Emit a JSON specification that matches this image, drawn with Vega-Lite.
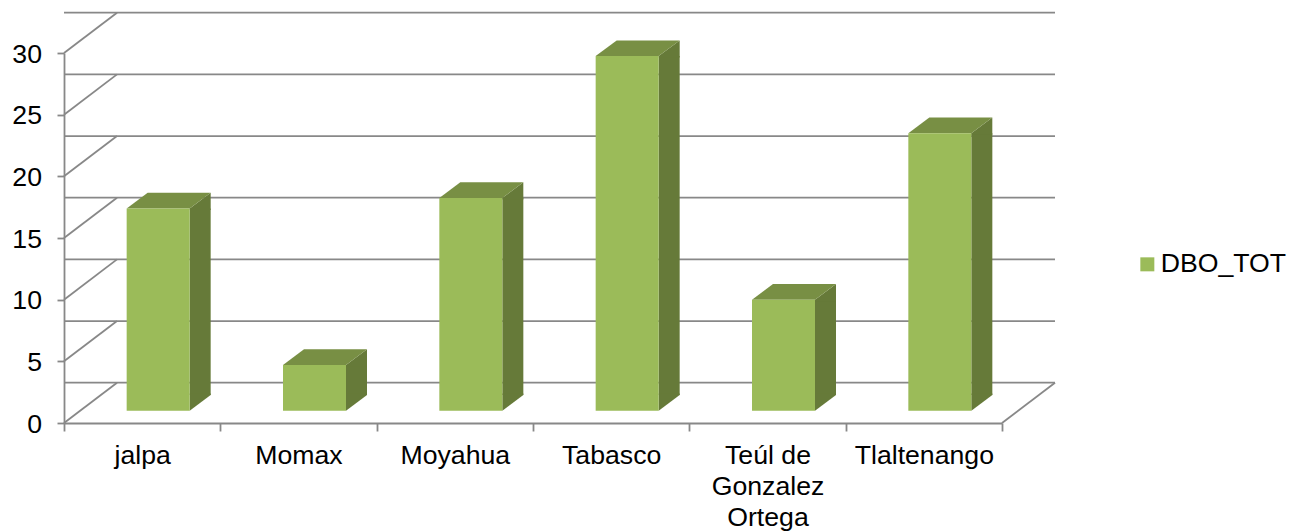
{
"$schema":"https://vega.github.io/schema/vega-lite/v6.json",
"width":938,"height":370,
"autosize":{"type":"none"},
"padding":{"left":64,"top":53,"right":297,"bottom":108},
"background":"white",
"config":{"view":{"stroke":null},"font":"Liberation Sans"},
"datasets":{
"bars":[
{"municipio":"jalpa","serie":"DBO_TOT","valor":16.4},
{"municipio":"Momax","serie":"DBO_TOT","valor":3.7},
{"municipio":"Moyahua","serie":"DBO_TOT","valor":17.25},
{"municipio":"Tabasco","serie":"DBO_TOT","valor":28.75},
{"municipio":"Teúl de Gonzalez Ortega","serie":"DBO_TOT","valor":9.0},
{"municipio":"Tlaltenango","serie":"DBO_TOT","valor":22.5}
],
"ticks":[{"tick":0},{"tick":5},{"tick":10},{"tick":15},{"tick":20},{"tick":25},{"tick":30}]
},
"layer":[
{"data":{"name":"ticks"},
 "mark":{"type":"rule","stroke":"#888888","strokeWidth":1.8,"xOffset":53,"yOffset":-40.3},
 "encoding":{"y":{"field":"tick","type":"quantitative","title":null,"scale":{"domain":[0,30],"nice":false}}}},
{"data":{"name":"ticks"},
 "mark":{"type":"point","filled":false,"opacity":1,"size":4,"stroke":"#888888","strokeWidth":1.8,"shape":"M-78.17 0L-25.17 -40.3"},
 "encoding":{"x":{"datum":"jalpa","type":"nominal","title":null},"y":{"field":"tick","type":"quantitative","title":null}}},
{"data":{"name":"bars"},
 "mark":{"type":"point","filled":false,"opacity":1,"size":4,"stroke":"#888888","strokeWidth":1.8,"shape":"M78.17 0L131.17 -40.3"},
 "transform":[{"filter":"datum.municipio === 'Tlaltenango'"}],
 "encoding":{"x":{"field":"municipio","type":"nominal","title":null},"y":{"datum":0,"type":"quantitative","title":null}}},
{"data":{"name":"bars"},
 "mark":{"type":"bar","width":21,"fill":"#667A39","xOffset":58,"yOffset":-12.3,"y2Offset":-28},
 "encoding":{"x":{"field":"municipio","type":"nominal","title":null},"y":{"field":"valor","type":"quantitative","title":null,"stack":null},"y2":{"datum":0}}},
{"data":{"name":"bars"},
 "mark":{"type":"point","filled":true,"opacity":1,"size":4,"fill":"#667A39","stroke":null,"shape":"M47.5 -29.5L47.5 -12.3L68.5 -28L68.5 -29.5Z"},
 "encoding":{"x":{"field":"municipio","type":"nominal","title":null},"y":{"datum":0,"type":"quantitative","title":null}}},
{"data":{"name":"bars"},
 "mark":{"type":"point","filled":true,"opacity":1,"size":4,"fill":"#667A39","stroke":null,"shape":"M47.5 -12.3L47.5 -10.8L68.5 -10.8L68.5 -28Z"},
 "encoding":{"x":{"field":"municipio","type":"nominal","title":null},"y":{"field":"valor","type":"quantitative","title":null}}},
{"data":{"name":"bars"},
 "mark":{"type":"point","filled":true,"opacity":1,"size":4,"fill":"#788F44","stroke":null,"shape":"M-15.5 -12.3L47.5 -12.3L68.5 -28L5.5 -28Z"},
 "encoding":{"x":{"field":"municipio","type":"nominal","title":null},"y":{"field":"valor","type":"quantitative","title":null}}},
{"data":{"name":"bars"},
 "mark":{"type":"bar","width":63,"xOffset":16,"yOffset":-12.3,"y2Offset":-12.3},
 "encoding":{
  "x":{"field":"municipio","type":"nominal","title":null,
   "scale":{"type":"band","paddingInner":0,"paddingOuter":0,"domain":["jalpa","Momax","Moyahua","Tabasco","Teúl de Gonzalez Ortega","Tlaltenango"]},
   "axis":{"labelAngle":0,"labelAlign":"center","labelBaseline":"top","tickBand":"extent","tickSize":8,"tickColor":"#888888","tickWidth":1.8,"domainColor":"#888888","domainWidth":1.8,"grid":false,
     "labelFont":"Liberation Sans","labelFontSize":26.67,"labelColor":"#000000","labelPadding":11,"labelLineHeight":31,"labelLimit":0,
     "labelExpr":"datum.label === 'Teúl de Gonzalez Ortega' ? ['Teúl de','Gonzalez','Ortega'] : datum.label"}},
  "y":{"field":"valor","type":"quantitative","stack":null,"title":null,
   "axis":{"values":[0,5,10,15,20,25,30],"tickSize":7,"tickColor":"#888888","tickWidth":1.8,"domainColor":"#888888","domainWidth":1.8,"grid":false,
     "labelFont":"Liberation Sans","labelFontSize":26.67,"labelColor":"#000000","labelPadding":15.5,"labelOffset":1}},
  "y2":{"datum":0},
  "color":{"field":"serie","type":"nominal","title":null,
   "scale":{"range":["#9BBB59"]},
   "legend":{"orient":"none","legendX":1070,"legendY":198,"symbolType":"square","symbolSize":196,"symbolStrokeWidth":0,"labelFont":"Liberation Sans","labelFontSize":26.67,"labelColor":"#000000","labelOffset":0,"padding":0}}
 }}
]
}
